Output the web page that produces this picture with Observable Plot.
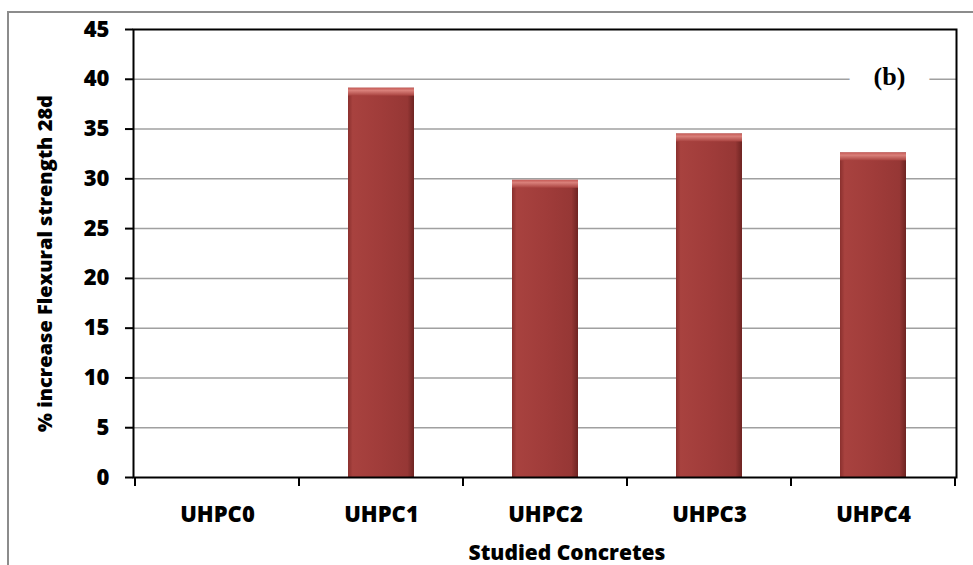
<!DOCTYPE html>
<html><head><meta charset="utf-8">
<script src="https://cdn.jsdelivr.net/npm/d3@7"></script>
<script src="https://cdn.jsdelivr.net/npm/@observablehq/plot@0.6"></script>
<style>body{margin:0;background:#fff}#chart{position:relative;width:973px;height:565px;overflow:hidden}</style>
</head><body><div id="chart"></div>
<script>
const categories = ["UHPC0", "UHPC1", "UHPC2", "UHPC3", "UHPC4"];
const values = [0, 39.1, 29.85, 34.5, 32.6];
const yTicks = [0, 5, 10, 15, 20, 25, 30, 35, 40, 45];
const panelLabel = "(b)";
const xTitle = "Studied Concretes";
const yTitle = "% increase Flexural strength 28d";

const data = categories.map((c, i) => ({c, v: values[i]}));
const shown = data.filter(d => d.v > 0);
const font = "'Open Sans', sans-serif";

const chart = Plot.plot({
  width: 973, height: 565,
  marginLeft: 133, marginRight: 17, marginTop: 29, marginBottom: 88,
  style: {fontFamily: font, fontWeight: "800", fontSize: "22px", color: "#000", background: "transparent", overflow: "visible"},
  x: {domain: categories, paddingInner: 0.6, paddingOuter: 0.3, label: null},
  y: {domain: [0, 45], ticks: yTicks, label: null},
  marks: [
    Plot.gridY(yTicks.filter(t => t > 0 && t < 45), {stroke: "#a0a0a0", strokeOpacity: 1, strokeWidth: 1.5}),
    Plot.barY(shown, {x: "c", y: "v", fill: "url(#barGrad)"}),
    Plot.barY(shown, {x: "c", y1: d => d.v - 0.8, y2: "v", fill: "url(#bevelGrad)"}),
    Plot.axisY({ticks: yTicks, tickSize: 8, tickPadding: 16, strokeWidth: 2, label: null, fontSize: 22, fontWeight: "800"}),
    Plot.axisX({tickSize: 0, tickPadding: 29, label: null, fontSize: 22, fontWeight: "800"}),
    Plot.frame({stroke: "#000", strokeWidth: 2}),
    Plot.text([panelLabel], {frameAnchor: "top-right", dx: -67, dy: 47, textAnchor: "middle", lineAnchor: "middle",
      fontFamily: "'Liberation Serif', 'Times New Roman', serif", fontWeight: "bold", fontSize: 26,
      stroke: "white", strokeWidth: 50, paintOrder: "stroke", fill: "#000"}),
    Plot.text([yTitle], {frameAnchor: "left", dx: -88, dy: 10, rotate: -90, textAnchor: "middle", lineAnchor: "middle",
      fontSize: 20, fontWeight: "800"}),
    Plot.text([xTitle], {frameAnchor: "bottom", dx: 22, dy: 76, textAnchor: "middle", lineAnchor: "middle",
      fontSize: 21, fontWeight: "800"})
  ]
});

// gradients and decorations
const svg = d3.select(chart);
const defs = svg.insert("defs", ":first-child");
const g1 = defs.append("linearGradient").attr("id", "barGrad").attr("x1", "0").attr("x2", "1").attr("y1", "0").attr("y2", "0");
[["0%", "#8a302e"], ["7%", "#a8423f"], ["50%", "#a03c3a"], ["90%", "#963735"], ["100%", "#6e2422"]]
  .forEach(([o, c]) => g1.append("stop").attr("offset", o).attr("stop-color", c));
const g2 = defs.append("linearGradient").attr("id", "bevelGrad").attr("x1", "0").attr("x2", "0").attr("y1", "0").attr("y2", "1");
[["0%", "#c65a56"], ["35%", "#d9807a"], ["100%", "#a8423f"]]
  .forEach(([o, c]) => g2.append("stop").attr("offset", o).attr("stop-color", c));

// outer border of the figure
svg.insert("rect", "defs + *").attr("x", 8).attr("y", 12).attr("width", 1000).attr("height", 600)
  .attr("fill", "none").attr("stroke", "#8c8c8c").attr("stroke-width", 2);

// category boundary tick marks on the x axis
const xs = chart.scale("x"), ys = chart.scale("y");
const step = xs.step, bw = xs.bandwidth;
const y0 = ys.apply(0);
const bounds = categories.map(c => xs.apply(c) - (step - bw) / 2);
bounds.push(bounds[bounds.length - 1] + step);
svg.append("g").selectAll("line").data(bounds).join("line")
  .attr("x1", d => d).attr("x2", d => d).attr("y1", y0).attr("y2", y0 + 9)
  .attr("stroke", "#000").attr("stroke-width", 2);

document.getElementById("chart").append(chart);
</script>
</body></html>
